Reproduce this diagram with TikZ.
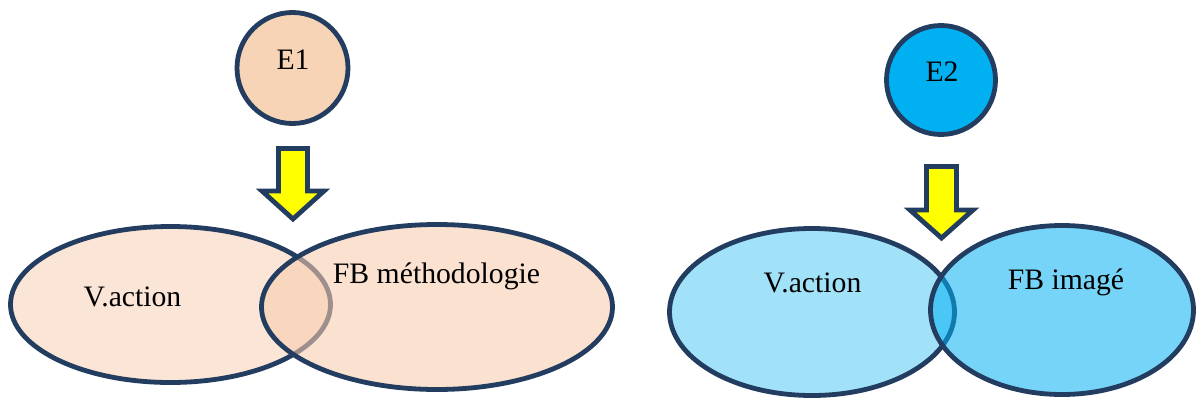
\documentclass[tikz,border=0pt]{standalone}
\usepackage{fontspec}
\setmainfont{Liberation Serif}
\usetikzlibrary{shapes.geometric}
\definecolor{navy}{HTML}{233D61}
\definecolor{peachA}{HTML}{F8CBAD}
\definecolor{peachE}{HTML}{F8D4B6}
\definecolor{cyanA}{HTML}{00B0F0}
\definecolor{arrowyellow}{HTML}{FFFF00}
\tikzset{
  bord/.style={draw=navy, line width=4.8pt},
  circnode/.style={bord, circle, inner sep=0pt, minimum size=#1},
  ellnode/.style={bord, ellipse, inner sep=0pt},
  lbl/.style={font=\fontsize{29.7}{34}\selectfont, inner sep=0pt, anchor=base, text=black},
  blockarrow/.style={bord, fill=arrowyellow, line join=miter},
}
\begin{document}
\begin{tikzpicture}[x=1pt, y=-1pt]
\useasboundingbox (0,0) rectangle (1197,399);
% ---------- left group ----------
\node[circnode=111pt, fill=peachE] (e1) at (292.5,68) {};
\node[lbl] (e1t) at (293,69.3) {E1};
\draw[blockarrow] (278.5,148.5) -- (278.5,191) -- (262,191) -- (293,219) -- (324,191) -- (307.5,191) -- (307.5,148.5) -- cycle;
\node[ellnode, fill=peachA, fill opacity=0.5, minimum width=320pt, minimum height=156pt] (va1) at (170.5,304.5) {};
\node[ellnode, fill=peachA, fill opacity=0.58, minimum width=351pt, minimum height=165pt] (fb1) at (437,307) {};
\node[lbl] (va1t) at (132.5,306) {V.action};
\node[lbl] (fb1t) at (436.5,283.3) {FB méthodologie};
% ---------- right group ----------
\node[circnode=109pt, fill=cyanA] (e2) at (941,80) {};
\node[lbl] (e2t) at (942,81) {E2};
\draw[blockarrow] (926.5,166.5) -- (926.5,210) -- (910,210) -- (941.5,238) -- (973,210) -- (956.5,210) -- (956.5,166.5) -- cycle;
\node[ellnode, fill=cyanA, fill opacity=0.37, minimum width=285pt, minimum height=167pt] (va2) at (812,312) {};
\node[ellnode, fill=cyanA, fill opacity=0.54, minimum width=263pt, minimum height=169pt] (fb2) at (1062,310) {};
\node[lbl] (va2t) at (812.5,292.7) {V.action};
\node[lbl] (fb2t) at (1066,289) {FB imagé};
\end{tikzpicture}
\end{document}
